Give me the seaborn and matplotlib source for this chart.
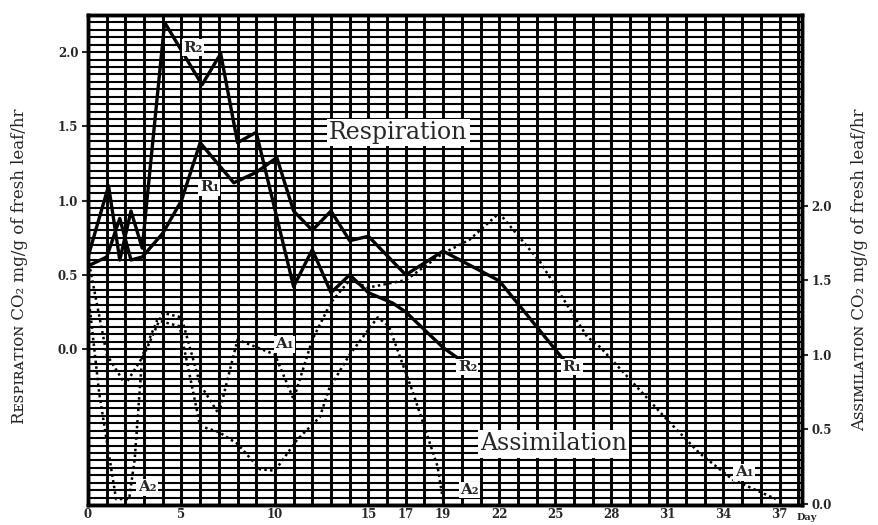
import matplotlib
matplotlib.use("Agg")
import matplotlib.pyplot as plt
from matplotlib.ticker import MultipleLocator
import seaborn as sns

# Respiration (left axis), CO2 mg/g fresh leaf/hr
r1_days = [0, 1.0, 1.7, 2.3, 2.9, 4.0, 5.0, 6.0, 7.8, 9.0, 10.1, 11.0, 12.0, 13.0, 14.0, 15.0, 17.0, 19.0, 22.0, 25.5]
r1_vals = [0.56, 0.62, 0.88, 0.60, 0.62, 0.78, 1.00, 1.39, 1.12, 1.19, 1.29, 0.93, 0.80, 0.93, 0.73, 0.76, 0.50, 0.66, 0.46, -0.08]

r2_days = [0, 1.1, 1.7, 2.3, 2.9, 4.1, 6.1, 7.1, 8.0, 9.0, 11.0, 12.0, 13.0, 14.0, 15.0, 16.3, 17.0, 19.0, 20.0]
r2_vals = [0.62, 1.10, 0.60, 0.93, 0.68, 2.20, 1.78, 1.99, 1.39, 1.46, 0.42, 0.67, 0.38, 0.50, 0.38, 0.31, 0.25, 0.01, -0.08]

# Assimilation (right axis)
a1_days = [0, 1.0, 2.0, 3.0, 4.0, 5.0, 6.0, 7.0, 8.0, 9.0, 10.0, 11.0, 12.0, 13.0, 14.0, 15.0, 17.0, 19.0, 20.4, 22.0, 24.2, 26.7, 27.4, 31.0, 32.7, 34.5, 36.8]
a1_vals = [1.65, 1.00, 0.80, 1.00, 1.28, 1.25, 0.80, 0.60, 1.10, 1.05, 1.00, 0.70, 1.10, 1.35, 1.50, 1.45, 1.50, 1.68, 1.77, 1.95, 1.62, 1.12, 1.05, 0.56, 0.34, 0.16, 0.03]

a2_days = [0, 0.6, 1.5, 2.2, 2.5, 2.9, 3.7, 4.9, 6.0, 7.0, 8.0, 9.2, 10.0, 11.2, 12.4, 12.9, 14.0, 15.5, 16.1, 17.4, 18.7, 19.0]
a2_vals = [1.42, 0.74, 0.03, 0.03, 0.30, 0.99, 1.23, 1.19, 0.52, 0.48, 0.40, 0.23, 0.22, 0.43, 0.58, 0.77, 1.00, 1.25, 1.19, 0.74, 0.25, 0.02]

x_ticks = [0, 5, 10, 15, 17, 19, 22, 25, 28, 31, 34, 37]
left_ticks = [0.0, 0.5, 1.0, 1.5, 2.0]
right_ticks = [0.0, 0.5, 1.0, 1.5, 2.0]

sns.set_style("white")
plt.rcParams['font.family'] = ['DejaVu Serif', 'DejaVu Sans']

fig = plt.figure(figsize=(8.79, 5.25), dpi=100)
ax = fig.add_axes([88 / 879, 1 - 505 / 525, (802 - 88) / 879, (505 - 15) / 525])
ax2 = ax.twinx()

ax.set_xlim(0, 38.2)
ax.set_ylim(-1.05, 2.25)
ax2.set_ylim(-0.01, 3.28)

# dense graph-paper grid
ax.xaxis.set_minor_locator(MultipleLocator(1))
ax.yaxis.set_minor_locator(MultipleLocator(0.05))
ax.grid(which='both', axis='x', color='black', lw=2.1)
ax.grid(which='both', axis='y', color='black', lw=1.5)
ax.set_axisbelow(True)
ax.tick_params(which='minor', length=0)

sns.lineplot(x=r1_days, y=r1_vals, ax=ax, color='black', lw=2.4, estimator=None, sort=False)
sns.lineplot(x=r2_days, y=r2_vals, ax=ax, color='black', lw=2.4, estimator=None, sort=False)
sns.lineplot(x=a1_days, y=a1_vals, ax=ax2, color='black', lw=1.8, ls=(0, (1, 1.3)), estimator=None, sort=False)
sns.lineplot(x=a2_days, y=a2_vals, ax=ax2, color='black', lw=1.8, ls=(0, (1, 1.3)), estimator=None, sort=False)

for a in (ax, ax2):
    for s in a.spines.values():
        s.set_linewidth(2.5)
        s.set_color('black')

tick_font = dict(fontweight='bold', fontsize=8.5)
ax.set_xticks(x_ticks)
ax.set_xticklabels([str(d) for d in x_ticks], **tick_font)
ax.set_yticks(left_ticks)
ax.set_yticklabels([f'{v:.1f}' for v in left_ticks], **tick_font)
ax2.set_yticks(right_ticks)
ax2.set_yticklabels([f'{v:.1f}' for v in right_ticks], **tick_font)
ax.tick_params(axis='y', which='major', direction='out', length=4, width=1.5, pad=3)
ax.tick_params(axis='x', which='major', direction='out', length=1.5, width=1.5, pad=0.5)
ax2.tick_params(which='major', direction='out', length=4, width=1.5, pad=3)
ax.set_xlabel('')
ax.set_ylabel('')
ax2.set_ylabel('')

fig.text(797 / 879, 1 - 518 / 525, 'Day', fontsize=7, fontweight='bold', ha='left', va='center')

# curve labels
box = dict(facecolor='white', edgecolor='none', pad=1)
lab = dict(fontsize=11, fontweight='bold', ha='center', va='center', bbox=box, zorder=10)
ax2.text(5.6, 2.03, 'R₂', transform=ax.transData, **lab)
ax2.text(6.5, 1.09, 'R₁', transform=ax.transData, **lab)
ax2.text(20.3, -0.12, 'R₂', transform=ax.transData, **lab)
ax2.text(25.9, -0.12, 'R₁', transform=ax.transData, **lab)
ax2.text(10.5, 1.07, 'A₁', **lab)
ax2.text(3.15, 0.11, 'A₂', **lab)
ax2.text(20.4, 0.09, 'A₂', **lab)
ax2.text(35.1, 0.21, 'A₁', **lab)

big = dict(fontsize=17, ha='center', va='center', zorder=10,
           bbox=dict(facecolor='white', edgecolor='none', pad=1.5))
ax2.text(16.6, 1.46, 'Respiration', transform=ax.transData, **big)
ax2.text(24.9, 0.40, 'Assimilation', **big)

fig.text(20 / 879, 1 - 266 / 525, 'Rᴇꜱᴘɪʀᴀᴛɪᴏɴ CO₂ mg/g of fresh leaf/hr',
         rotation=90, fontsize=12, ha='center', va='center')
fig.text(860 / 879, 1 - 270 / 525, 'Aꜱꜱɪᴍɪʟᴀᴛɪᴏɴ CO₂ mg/g of fresh leaf/hr',
         rotation=90, fontsize=12, ha='center', va='center')

fig.savefig('out.png', dpi=100)
